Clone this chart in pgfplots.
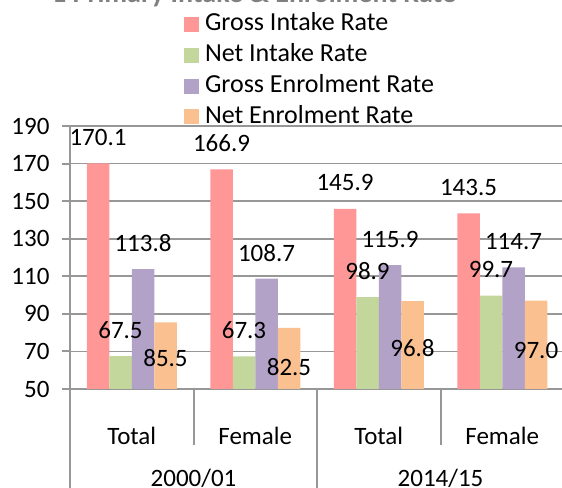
\documentclass[border=0pt]{standalone}
\usepackage{pgfplots}
\pgfplotsset{compat=1.18}
\usepackage{fontspec}
\setmainfont{Carlito}
\definecolor{gir}{HTML}{FF9797}
\definecolor{nir}{HTML}{C3D69B}
\definecolor{ger}{HTML}{B3A2C7}
\definecolor{ner}{HTML}{FAC090}
\definecolor{gridc}{HTML}{979797}
\newcommand{\bigf}{\fontsize{25bp}{30bp}\selectfont}
\pgfplotstableread{
x gir nir ger ner dy
0 170.1 67.5 113.8 85.5 -36
1 166.9 67.3 108.7 82.5 -39
2 145.9 98.9 115.9 96.8 -47
3 143.5 99.7 114.7 97.0 -49.5
}\rates
\begin{document}
\begin{tikzpicture}[x=1bp,y=1bp]
\useasboundingbox (0,0) rectangle (562,488);
\clip (0,0) rectangle (562,488);
\node[anchor=base west, font=\fontsize{28bp}{32bp}\selectfont\bfseries, text=gray, inner sep=0] at (52,485) {1 Primary Intake \& Enrolment Rate};
\begin{axis}[
  at={(70bp,99bp)}, anchor=south west,
  scale only axis, width=494bp, height=263bp,
  ymin=50, ymax=190, ytick={50,70,...,190},
  xmin=-0.5, xmax=3.5,
  xtick={0,1,2,3}, xticklabels={Total,Female,Total,Female},
  x tick style={draw=none},
  xticklabel style={anchor=base, yshift=-47.6bp, inner sep=0},
  y tick style={gridc, line width=2bp},
  tick align=outside, major tick length=8bp,
  yticklabel style={xshift=-9bp},
  tick label style={font=\bigf, text=black},
  /pgf/number format/assume math mode=true,
  axis x line*=bottom, axis y line*=left,
  axis line style={gridc, line width=2.2bp, -},
  ymajorgrids, grid style={gridc, line width=1.6bp},
  clip mode=individual,
  bar width=22.5bp,
  lbl/.style={draw=none, mark=none, forget plot, nodes near coords,
     every node near coord/.append style={font=\bigf, text=black, anchor=center, yshift=26bp,
     /pgf/number format/fixed, /pgf/number format/fixed zerofill, /pgf/number format/precision=1}},
  legend style={at={(rel axis cs:0.2308,1.428)}, anchor=north west, draw=none, fill=none,
     inner sep=0pt, outer sep=0pt, font=\fontsize{26bp}{30bp}\selectfont, row sep=8.2bp,
     nodes={inner sep=0pt, text height=17.5bp, text depth=5bp},
     /tikz/every odd column/.append style={column sep=6bp}},
  legend cell align=left,
  legend image code/.code={\fill[#1] (0bp,-7.5bp) rectangle (15bp,7.5bp);},
]
\addplot[ybar, bar shift=-33.75bp, fill=gir, draw=none] table[x=x, y=gir] {\rates};
\addplot[ybar, bar shift=-11.25bp, fill=nir, draw=none] table[x=x, y=nir] {\rates};
\addplot[ybar, bar shift=11.25bp, fill=ger, draw=none] table[x=x, y=ger] {\rates};
\addplot[ybar, bar shift=33.75bp, fill=ner, draw=none] table[x=x, y=ner] {\rates};
\legend{Gross Intake Rate, Net Intake Rate, Gross Enrolment Rate, Net Enrolment Rate}
\addplot[lbl, xshift=-33.75bp] table[x=x, y=gir] {\rates};
\addplot[lbl, xshift=-11.25bp] table[x=x, y=nir] {\rates};
\addplot[lbl, xshift=11.25bp] table[x=x, y=ger] {\rates};
\addplot[lbl, xshift=33.75bp,
  visualization depends on={\thisrow{dy} \as \dy},
  every node near coord/.append style={yshift=-26bp, yshift=\dy*1bp}] table[x=x, y=ner] {\rates};
\draw[gridc, line width=2bp] (axis cs:0.5,50) -- ++(0pt,-56bp);
\draw[gridc, line width=2bp] (axis cs:2.5,50) -- ++(0pt,-56bp);
\draw[gridc, line width=2bp] (axis cs:-0.5,50) -- ++(0pt,-110bp);
\draw[gridc, line width=2bp] (axis cs:1.5,50) -- ++(0pt,-110bp);
\node[font=\bigf, anchor=base, inner sep=0] at (axis cs:0.5,50) [yshift=-97.5bp] {2000/01};
\node[font=\bigf, anchor=base, inner sep=0] at (axis cs:2.5,50) [yshift=-97.5bp] {2014/15};
\end{axis}
\end{tikzpicture}
\end{document}
